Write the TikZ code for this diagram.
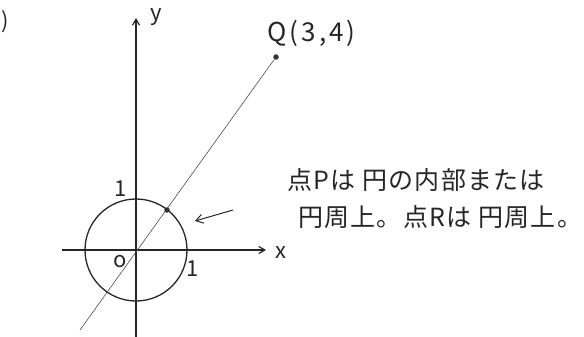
\documentclass[tikz,border=0pt]{standalone}
\usepackage{fontspec}
\setmainfont{Noto Sans CJK JP}
\usetikzlibrary{arrows.meta}
\begin{document}
\begin{tikzpicture}[x=1pt,y=-1pt,
  axis/.style={line width=1.2pt,black!85,-{Straight Barb[length=6pt,width=7pt]}},
  lbl/.style={font=\fontsize{22}{24}\selectfont,inner sep=0pt,black!85},
  jp/.style={font=\fontsize{25}{28}\selectfont\addfontfeatures{LetterSpace=5},inner sep=0pt,anchor=west,black!85},
  pt/.style={circle,fill=black!80,inner sep=0pt,minimum size=5.5pt}]
\useasboundingbox (0,0) rectangle (584,337);
\coordinate (O) at (136,250);
\coordinate (xs) at (62,250);
\coordinate (xe) at (266,250);
\coordinate (ys) at (136,337);
\coordinate (ye) at (136,18);
\coordinate (L) at (80,330);
\draw[axis] (xs) -- (xe);
\draw[axis] (ys) -- (ye);
\draw[line width=1.3pt,black!85] (O) circle (51);
\node[pt] (Q) at (276,57) {};
\draw[line width=0.6pt,black!70] (L) -- (Q);
\node[pt] (P) at (167,210) {};
\coordinate (as) at (233,210);
\coordinate (ae) at (195,221);
\draw[line width=1pt,black!85,-{Straight Barb[length=7pt,width=9pt]}] (as) -- (ae);
\node[lbl] (xl) at (281,253) {x};
\node[lbl] (yl) at (156,17) {y};
\node[lbl] (ol) at (120,262) {o};
\node[lbl] (one1) at (121,189) {1};
\node[lbl] (one2) at (193,269) {1};
\node[lbl,anchor=west,font=\fontsize{26}{28}\selectfont\addfontfeatures{LetterSpace=12}] (ql) at (267,33) {Q(3,4)};
\node[lbl,anchor=west] (br) at (1,22) {)};
\node[jp] (t1) at (287,180) {点Pは 円の内部または};
\node[jp] (t2) at (298,217) {円周上。点Rは 円周上。};
\end{tikzpicture}
\end{document}
